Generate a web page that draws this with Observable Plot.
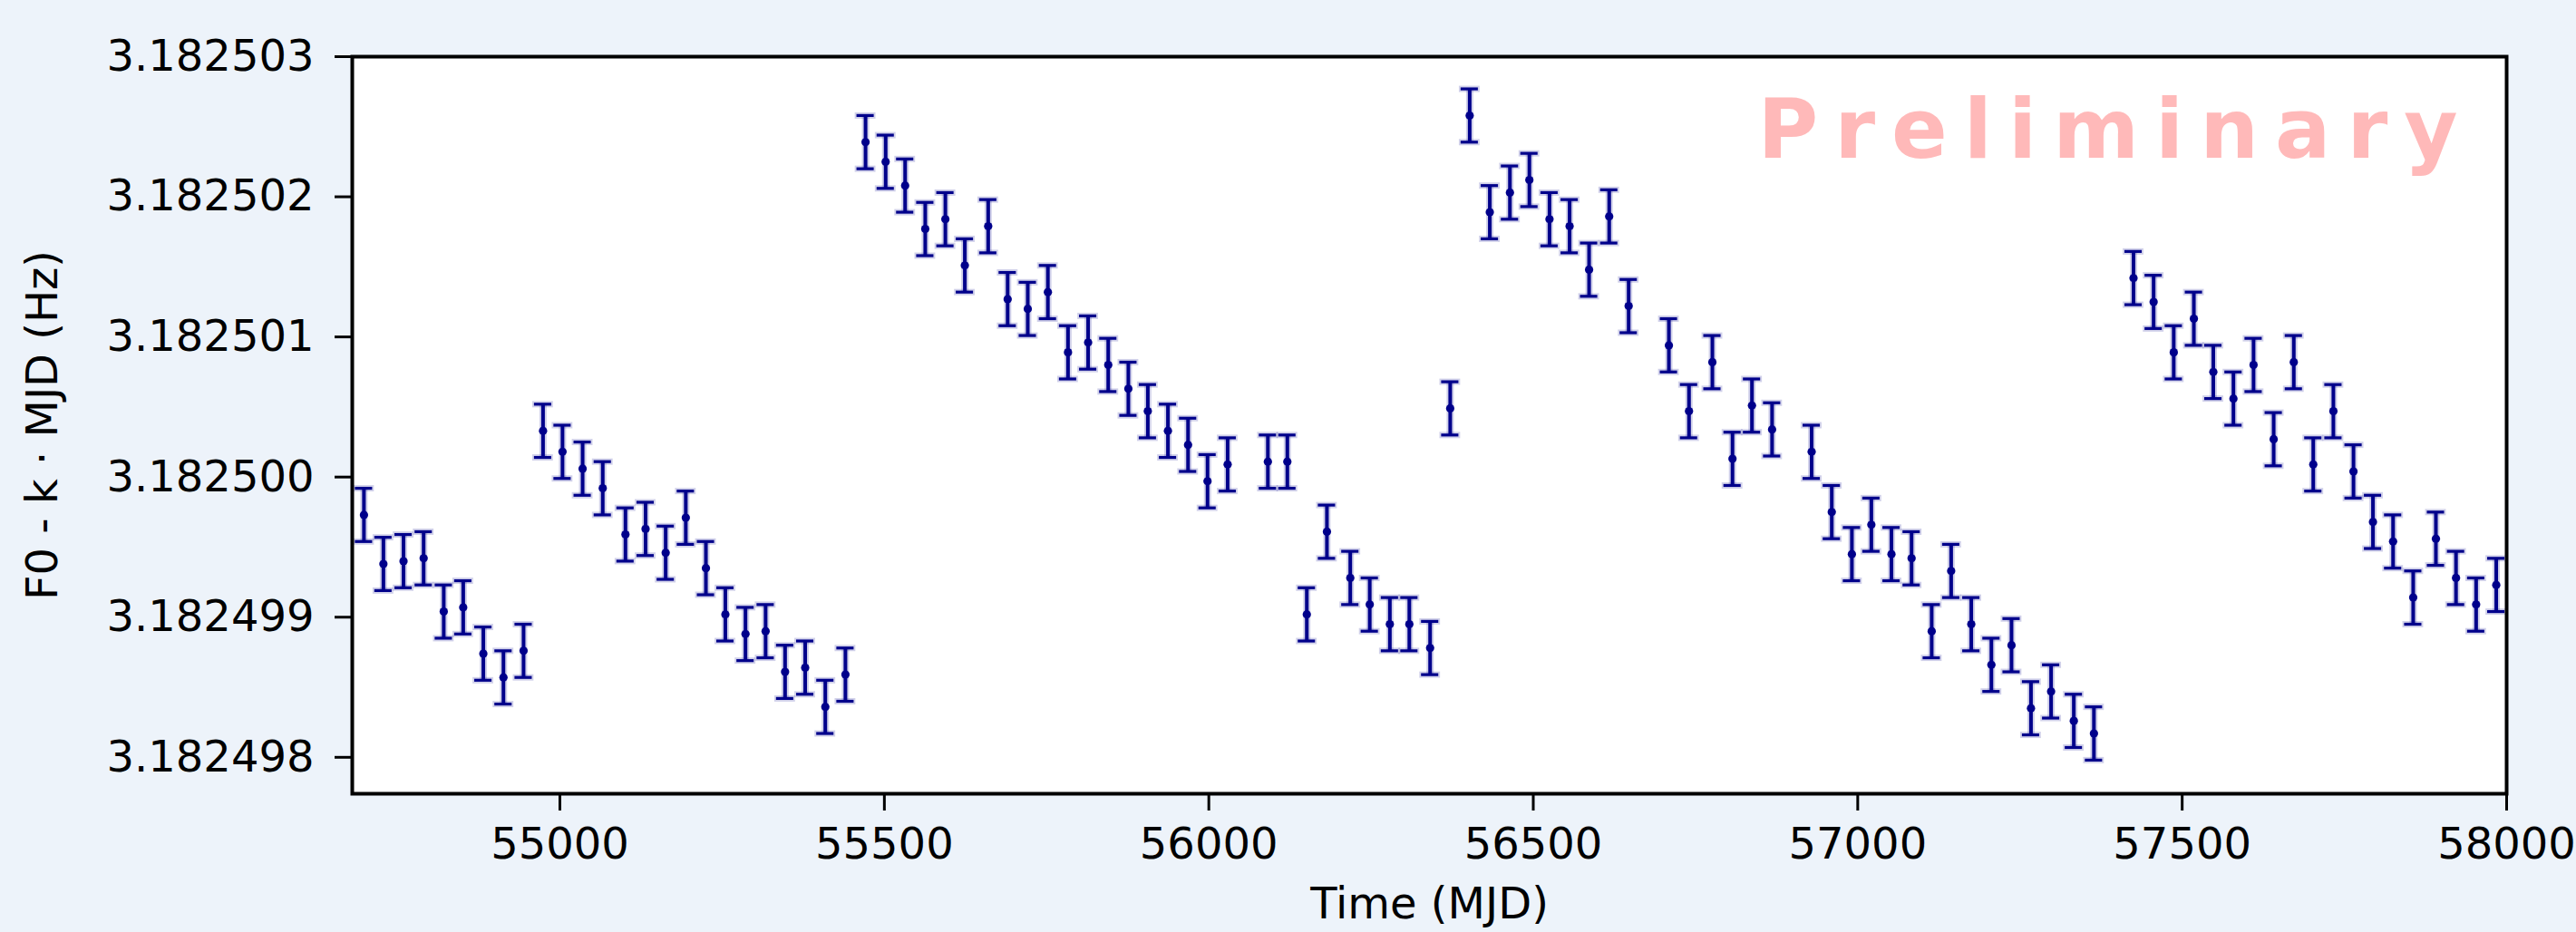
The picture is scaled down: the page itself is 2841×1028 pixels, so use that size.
<!DOCTYPE html>
<html>
<head>
<meta charset="utf-8">
<script src="https://cdn.jsdelivr.net/npm/d3@7"></script>
<script src="https://cdn.jsdelivr.net/npm/@observablehq/plot@0.6"></script>
<style>
  html, body { margin: 0; padding: 0; background: #edf3fa; }
</style>
</head>
<body>
<div id="chart"></div>
<script>
// Time (MJD) of each measurement
const mjd = [
  54698, 54728, 54759, 54790, 54821, 54851, 54882, 54913, 54944,
  54974, 55004, 55035, 55066, 55101, 55132, 55163, 55194, 55225, 55255, 55286, 55317, 55347, 55378, 55409, 55440,
  55471, 55502, 55532, 55563, 55594, 55624, 55660, 55690, 55721, 55752, 55783, 55814, 55845, 55876, 55906, 55937,
  55968, 55998, 56029, 56091, 56121, 56151, 56182, 56218, 56248, 56279, 56309, 56341, 56372,
  56402, 56433, 56464, 56494, 56525, 56556, 56586, 56617, 56647, 56709, 56740, 56776, 56807, 56837, 56868, 56929,
  56960, 56991, 57021, 57052, 57083, 57114, 57144, 57175, 57206, 57237, 57267, 57298, 57333, 57364,
  57425, 57456, 57487, 57518, 57548, 57579, 57610, 57641, 57672, 57702, 57733, 57764, 57794, 57825, 57856,
  57891, 57922, 57953, 57984
];
// F0 - k·MJD (Hz)
const f0 = [
  3.18249973, 3.18249938, 3.18249940, 3.18249942, 3.18249904, 3.18249907, 3.18249874, 3.18249857, 3.18249876,
  3.18250033, 3.18250018, 3.18250006, 3.18249992, 3.18249959, 3.18249963, 3.18249946, 3.18249971, 3.18249935,
  3.18249902, 3.18249888, 3.18249890, 3.18249861, 3.18249864, 3.18249836, 3.18249859,
  3.18250239, 3.18250225, 3.18250208, 3.18250177, 3.18250184, 3.18250151, 3.18250179, 3.18250127, 3.18250120,
  3.18250132, 3.18250089, 3.18250096, 3.18250080, 3.18250063, 3.18250047, 3.18250033,
  3.18250023, 3.18249997, 3.18250009, 3.18250011, 3.18250011, 3.18249902, 3.18249961, 3.18249928, 3.18249909,
  3.18249895, 3.18249895, 3.18249878, 3.18250049,
  3.18250258, 3.18250189, 3.18250203, 3.18250212, 3.18250184, 3.18250179, 3.18250148, 3.18250186, 3.18250122,
  3.18250094, 3.18250047, 3.18250082, 3.18250013, 3.18250051, 3.18250034, 3.18250018,
  3.18249975, 3.18249945, 3.18249966, 3.18249945, 3.18249942, 3.18249890, 3.18249933, 3.18249895, 3.18249866,
  3.18249880, 3.18249835, 3.18249847, 3.18249826, 3.18249817,
  3.18250142, 3.18250125, 3.18250089, 3.18250113, 3.18250075, 3.18250056, 3.18250080, 3.18250027, 3.18250082,
  3.18250009, 3.18250047, 3.18250004, 3.18249968, 3.18249954, 3.18249914,
  3.18249956, 3.18249928, 3.18249909, 3.18249923
];
// 1-sigma uncertainty (Hz), same for every point
const err = 1.9e-7;

const xTicks = [55000, 55500, 56000, 56500, 57000, 57500, 58000];
const yTicks = [3.182498, 3.182499, 3.1825, 3.182501, 3.182502, 3.182503];

const xLabel = "Time (MJD)";
const yLabel = "F0 - k \u00b7 MJD (Hz)";
const watermark = "Preliminary";

const data = mjd.map((m, i) => ({mjd: m, f: f0[i], lo: f0[i] - err, hi: f0[i] + err}));

const color = "#00008b";
const capHalf = 13.3;   // half cap width in MJD
const haloHalf = 16;

const chart = Plot.plot({
  width: 2841,
  height: 1028,
  marginLeft: 388,
  marginRight: 77,
  marginTop: 62,
  marginBottom: 153,
  style: {background: "#edf3fa", fontFamily: "DejaVu Sans", color: "black", overflow: "visible"},
  x: {domain: [54680, 58000]},
  y: {domain: [3.18249774, 3.182503]},
  marks: [
    Plot.frame({fill: "white", stroke: "none"}),
    // soft halo
    Plot.ruleX(data, {x: "mjd", y1: "lo", y2: "hi", stroke: color, strokeOpacity: 0.18, strokeWidth: 8}),
    Plot.ruleY(data, {y: "lo", x1: d => d.mjd - haloHalf, x2: d => d.mjd + haloHalf, stroke: color, strokeOpacity: 0.18, strokeWidth: 7}),
    Plot.ruleY(data, {y: "hi", x1: d => d.mjd - haloHalf, x2: d => d.mjd + haloHalf, stroke: color, strokeOpacity: 0.18, strokeWidth: 7}),
    // error bars
    Plot.ruleX(data, {x: "mjd", y1: "lo", y2: "hi", stroke: color, strokeWidth: 4}),
    Plot.ruleY(data, {y: "lo", x1: d => d.mjd - capHalf, x2: d => d.mjd + capHalf, stroke: color, strokeWidth: 3.2}),
    Plot.ruleY(data, {y: "hi", x1: d => d.mjd - capHalf, x2: d => d.mjd + capHalf, stroke: color, strokeWidth: 3.2}),
    Plot.dot(data, {x: "mjd", y: "f", r: 4.6, fill: color, stroke: "none"}),
    Plot.frame({stroke: "black", strokeWidth: 4}),
    Plot.axisX({ticks: xTicks, tickFormat: "d", tickSize: 19, tickPadding: 18, strokeWidth: 3, fontSize: 48, label: null}),
    Plot.axisY({ticks: yTicks, tickFormat: ".6f", tickSize: 19, tickPadding: 23, strokeWidth: 3, fontSize: 48, label: null}),
    Plot.text([xLabel], {frameAnchor: "bottom", dy: 137, lineAnchor: "bottom", fontSize: 48, fill: "black"}),
    Plot.text([yLabel], {frameAnchor: "left", textAnchor: "middle", lineAnchor: "middle", dx: -341, rotate: -90, fontSize: 48, fill: "black"}),
    Plot.text([watermark], {frameAnchor: "top-right", textAnchor: "start", dx: -826, dy: 111, lineAnchor: "bottom",
      fontSize: 91, fontWeight: "bold", fill: "#ffb9b9"})
  ]
});

d3.select(chart).selectAll("text")
  .filter(function() { return this.textContent === watermark; })
  .style("letter-spacing", "18px");

document.getElementById("chart").appendChild(chart);
</script>
</body>
</html>
